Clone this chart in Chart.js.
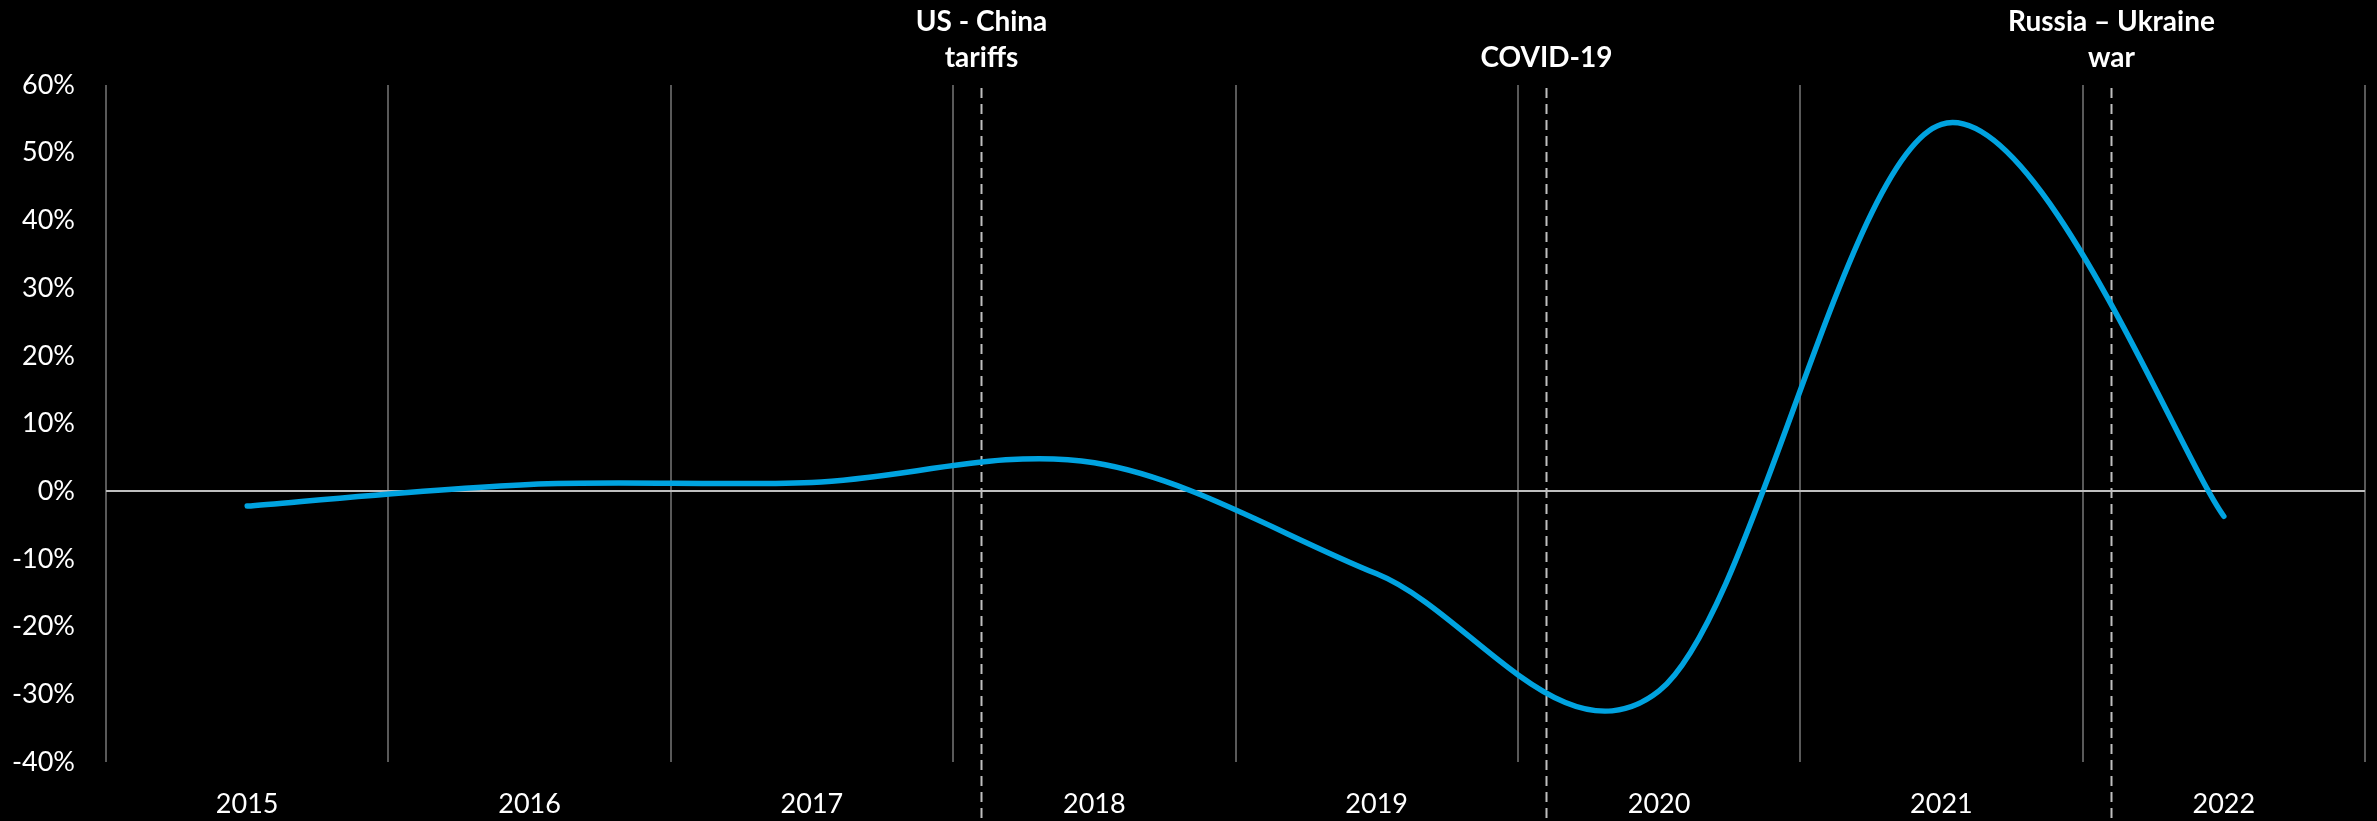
<!DOCTYPE html>
<html>
<head>
<meta charset="utf-8">
<script src="https://cdn.jsdelivr.net/npm/chart.js@4/dist/chart.umd.min.js"></script>
<style>
  html, body { margin: 0; padding: 0; background: #000; }
  #wrap { width: 2377px; height: 821px; position: relative; }
</style>
</head>
<body>
<div id="wrap"><canvas id="c"></canvas></div>
<script>
// ---- data ----
const years = ['2015', '2016', '2017', '2018', '2019', '2020', '2021', '2022'];
const growth = [-2.2, 1.0, 1.3, 4.2, -12.2, -29.5, 54.2, -3.7];
const yTicks = [-40, -30, -20, -10, 0, 10, 20, 30, 40, 50, 60];
const eventNames = [['US - China', 'tariffs'], ['COVID-19'], ['Russia \u2013 Ukraine', 'war']];
const eventYears = [2018.1, 2020.1, 2022.1];

const FONT = 'Lato, "Open Sans", sans-serif';

// Office-style smoothing: control points at P +/- (Pnext - Pprev)/6
const smoothPlugin = {
  id: 'officeSmooth',
  beforeDatasetDraw(chart, args) {
    const line = args.meta.dataset;
    if (!line) return;
    line.updateControlPoints(chart.chartArea, 'x');
    const pts = args.meta.data;
    const n = pts.length;
    for (let i = 0; i < n; i++) {
      const p = pts[i];
      const prev = pts[Math.max(0, i - 1)];
      const next = pts[Math.min(n - 1, i + 1)];
      const dx = (next.x - prev.x) / 6;
      const dy = (next.y - prev.y) / 6;
      p.cp1x = p.x - dx; p.cp1y = p.y - dy;
      p.cp2x = p.x + dx; p.cp2y = p.y + dy;
    }
    delete line._path;
  }
};

const eventPlugin = {
  id: 'events',
  beforeDatasetsDraw(chart) {
    const ctx = chart.ctx;
    const x = chart.scales.x;
    const first = Number(years[0]);
    ctx.save();
    eventYears.forEach((yr, i) => {
      const idx = yr - first - 0.5;
      const px = Math.round(x.getPixelForValue(idx)) + 0.5;
      ctx.strokeStyle = '#bfbfbf';
      ctx.lineWidth = 2;
      ctx.setLineDash([10, 6]);
      ctx.beginPath();
      ctx.moveTo(px, 88);
      ctx.lineTo(px, 821);
      ctx.stroke();
      ctx.setLineDash([]);
      const lines = eventNames[i];
      ctx.fillStyle = '#ffffff';
      ctx.font = 'bold 28px ' + FONT;
      ctx.textAlign = 'center';
      ctx.textBaseline = 'middle';
      const lastY = 58, step = 36;
      lines.forEach((t, j) => {
        const yy = lastY - (lines.length - 1 - j) * step;
        ctx.fillText(t, px, yy);
      });
    });
    ctx.restore();
  }
};

new Chart(document.getElementById('c'), {
  type: 'line',
  data: {
    labels: years,
    datasets: [{
      data: growth,
      borderColor: '#00a3e0',
      borderWidth: 5.5,
      borderCapStyle: 'round',
      borderJoinStyle: 'round',
      pointRadius: 0,
      tension: 0.35,
      fill: false,
      clip: false
    }]
  },
  options: {
    responsive: true,
    maintainAspectRatio: false,
    animation: false,
    layout: { padding: { top: 85, right: 12, left: 0, bottom: 0 } },
    plugins: {
      legend: { display: false },
      tooltip: { enabled: false }
    },
    scales: {
      x: {
        type: 'category',
        offset: true,
        grid: {
          display: true,
          offset: true,
          color: '#595959',
          lineWidth: 2,
          drawTicks: false
        },
        border: { display: false },
        ticks: {
          color: '#ffffff',
          font: { family: FONT, size: 27 },
          padding: 26,
          maxRotation: 0
        },
        afterFit(s) { s.height = 59; }
      },
      y: {
        min: -40,
        max: 60,
        afterBuildTicks(s) { s.ticks = yTicks.map(v => ({ value: v })); },
        grid: {
          drawTicks: false,
          color: (c) => (c.tick && c.tick.value === 0) ? '#bfbfbf' : 'rgba(0,0,0,0)',
          lineWidth: 2
        },
        border: { display: false },
        ticks: {
          color: '#ffffff',
          font: { family: FONT, size: 27 },
          padding: 31,
          callback: (v) => v + '%'
        },
        afterFit(s) { s.width = 106; }
      }
    }
  },
  plugins: [smoothPlugin, eventPlugin]
});
</script>
</body>
</html>
